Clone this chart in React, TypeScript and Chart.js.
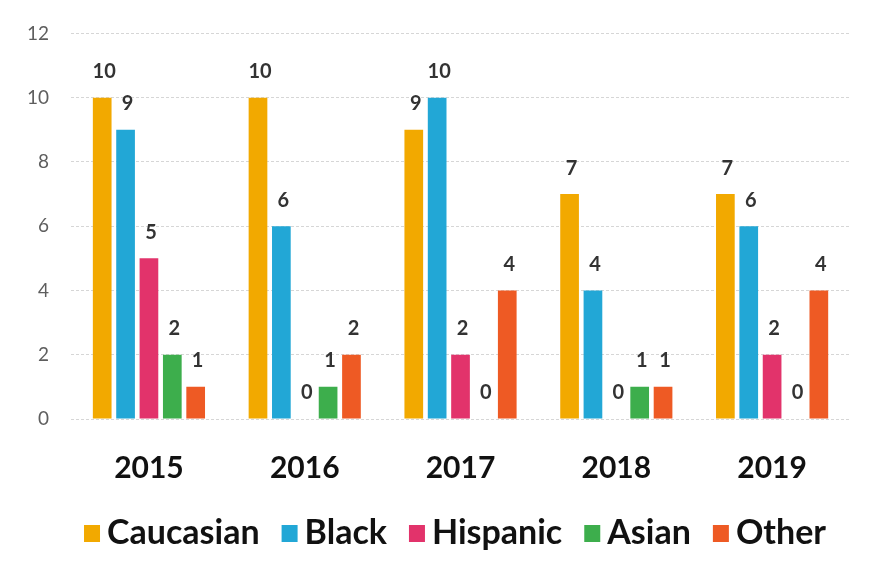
import React, { useEffect, useRef } from "react";
import { Chart, registerables } from "chart.js";

Chart.register(...registerables);

const years = ["2015", "2016", "2017", "2018", "2019"];
const caucasian = [10, 10, 9, 7, 7];
const black = [9, 6, 10, 4, 6];
const hispanic = [5, 0, 2, 0, 2];
const asian = [2, 1, 0, 1, 0];
const other = [1, 2, 4, 1, 4];
const yTicks = [0, 2, 4, 6, 8, 10, 12];

const seriesNames = ["Caucasian", "Black", "Hispanic", "Asian", "Other"];
const seriesColors = ["#F2A900", "#22A7D6", "#E2336B", "#3DAE4C", "#EE5A24"];

const valueLabels = {
  id: "valueLabels",
  afterDatasetsDraw(chart: any) {
    const ctx = chart.ctx;
    ctx.save();
    ctx.font = "bold 20px Lato";
    ctx.fillStyle = "#333333";
    ctx.textAlign = "center";
    ctx.textBaseline = "bottom";
    chart.data.datasets.forEach((ds: any, i: number) => {
      const meta = chart.getDatasetMeta(i);
      meta.data.forEach((bar: any, j: number) => {
        ctx.fillText(String(ds.data[j]), bar.x + 2, bar.y - 16);
      });
    });
    ctx.restore();
  },
};

const customLegend = {
  id: "customLegend",
  afterDraw(chart: any) {
    const ctx = chart.ctx;
    ctx.save();
    ctx.font = "bold 34px Lato";
    ctx.textBaseline = "middle";
    ctx.textAlign = "left";
    const box = 16;
    const gap = 7;
    const spacing = 22;
    const items = chart.data.datasets.map((ds: any) => ({
      text: ds.label,
      color: ds.backgroundColor,
      w: ctx.measureText(ds.label).width,
    }));
    const total =
      items.reduce((s: number, it: any) => s + box + gap + it.w, 0) +
      spacing * (items.length - 1);
    let x = 455 - total / 2;
    const cy = 533;
    items.forEach((it: any) => {
      ctx.fillStyle = it.color;
      ctx.fillRect(x, cy - 8, box, 17);
      x += box + gap;
      ctx.fillStyle = "#111111";
      ctx.fillText(it.text, x, cy);
      x += it.w + spacing;
    });
    ctx.restore();
  },
};

export default function App() {
  const ref = useRef<HTMLCanvasElement>(null);
  useEffect(() => {
    const all = [caucasian, black, hispanic, asian, other];
    const chart = new Chart(ref.current!, {
      type: "bar",
      data: {
        labels: years,
        datasets: all.map((d, i) => ({
          label: seriesNames[i],
          data: d,
          backgroundColor: seriesColors[i],
          borderWidth: 0,
          categoryPercentage: 0.75,
          barPercentage: 0.8,
        })),
      },
      options: {
        animation: false,
        responsive: false,
        maintainAspectRatio: false,
        layout: { padding: { left: 5, right: 19, top: 29, bottom: 68 } },
        scales: {
          x: {
            grid: { display: false },
            border: { display: false },
            ticks: {
              color: "#111111",
              font: { family: "Lato", weight: "bold", size: 30 },
              padding: 23,
            },
          },
          y: {
            min: 0,
            max: 12,
            afterBuildTicks: (axis: any) => {
              axis.ticks = yTicks.map((v) => ({ value: v }));
            },
            grid: {
              color: "#D6D6D6",
              lineWidth: 1,
              drawTicks: false,
            },
            border: { display: false, dash: [3, 2] },
            ticks: {
              color: "#5E5E5E",
              font: { family: "Lato", size: 19 },
              padding: 22,
            },
          },
        },
        plugins: {
          legend: { display: false },
          tooltip: { enabled: false },
        },
      },
      plugins: [valueLabels, customLegend],
    } as any);
    return () => chart.destroy();
  }, []);
  return (
    <div style={{ position: "absolute", left: 0, top: 0, width: 869, height: 577, background: "#fff" }}>
      <canvas ref={ref} width={869} height={577} />
    </div>
  );
}
